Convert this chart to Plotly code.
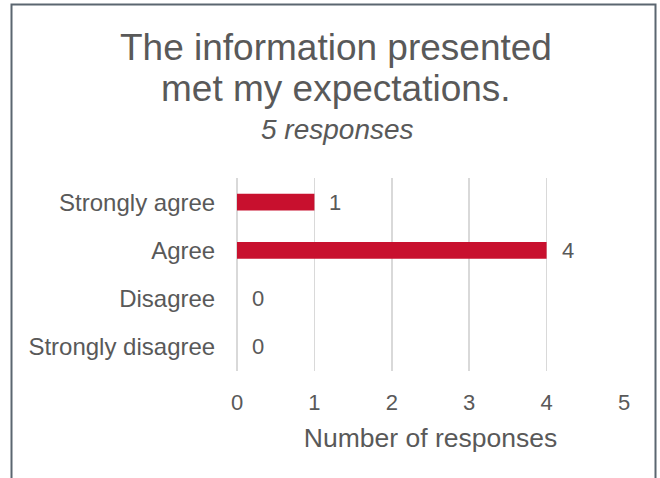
import plotly.graph_objects as go

categories = ["Strongly agree", "Agree", "Disagree", "Strongly disagree"]
counts = [1, 4, 0, 0]
x_ticks = [0, 1, 2, 3, 4, 5]
title_lines = ["The information presented", "met my expectations."]
subtitle = "5 responses"
x_title = "Number of responses"

W, H = 660, 478
L, T = 237, 178
R = W - 624
B = H - 371
PW, PH = W - L - R, H - T - B

def px(x):
    return (x - L) / PW

def py(y):
    return (H - B - y) / PH

FONT = "Liberation Sans, Arial, sans-serif"
TXT = "#595959"

fig = go.Figure()
fig.add_trace(go.Bar(
    x=counts, y=categories, orientation="h",
    marker=dict(color="#C8102E", line=dict(width=0)),
    hoverinfo="skip",
))

for c, v in zip(categories, counts):
    fig.add_annotation(x=v, y=c, xref="x", yref="y", text=str(v),
                       showarrow=False, xanchor="left", xshift=13,
                       font=dict(family=FONT, size=22, color=TXT))

fig.add_annotation(x=px(336), y=py(47), xref="paper", yref="paper",
                   text=title_lines[0], showarrow=False, xanchor="center", yanchor="middle",
                   font=dict(family=FONT, size=37, color=TXT))
fig.add_annotation(x=px(336), y=py(89), xref="paper", yref="paper",
                   text=title_lines[1], showarrow=False, xanchor="center", yanchor="middle",
                   font=dict(family=FONT, size=37, color=TXT))
fig.add_annotation(x=px(337), y=py(129), xref="paper", yref="paper",
                   text="<i>" + subtitle + "</i>", showarrow=False, xanchor="center", yanchor="middle",
                   font=dict(family=FONT, size=28, color=TXT))

fig.add_shape(type="rect", xref="paper", yref="paper",
              x0=px(11.5), x1=px(655.5), y0=py(4.5), y1=py(500),
              line=dict(color="#5B6670", width=2), fillcolor="rgba(0,0,0,0)", layer="above")

fig.update_layout(
    width=W, height=H,
    margin=dict(l=L, r=R, t=T, b=B, pad=0),
    paper_bgcolor="white", plot_bgcolor="white",
    showlegend=False, bargap=0.65,
    font=dict(family=FONT, color=TXT),
    xaxis=dict(range=[0, 5], tickvals=x_ticks, showgrid=True, gridcolor="#D9D9D9", gridwidth=1.5,
               zeroline=True, zerolinecolor="#D9D9D9", zerolinewidth=1.5, showline=False,
               ticks="outside", ticklen=12, tickcolor="rgba(0,0,0,0)",
               tickfont=dict(family=FONT, size=22, color=TXT),
               title=dict(text=x_title, font=dict(family=FONT, size=26.5, color=TXT), standoff=14)),
    yaxis=dict(categoryorder="array", categoryarray=categories[::-1], autorange=False, range=[-0.5, 3.5],
               showgrid=False, showline=False, zeroline=False,
               ticks="outside", ticklen=16, tickcolor="rgba(0,0,0,0)",
               tickfont=dict(family=FONT, size=24, color=TXT)),
)

fig.write_html("out.html",
               config={"displayModeBar": False, "staticPlot": True},
               post_script="document.body.style.margin='0';document.body.style.overflow='hidden';")
